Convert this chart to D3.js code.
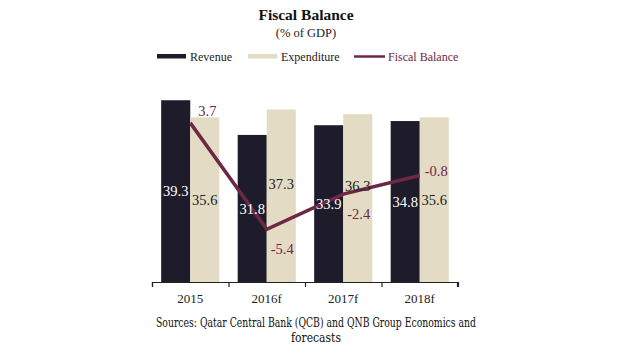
<!DOCTYPE html>
<html><head><meta charset="utf-8">
<script src="https://cdn.jsdelivr.net/npm/d3@7"></script>
<style>body{margin:0;background:#fff}svg{display:block}</style>
</head><body>
<script>
const categories = ["2015", "2016f", "2017f", "2018f"];
const revenue = [39.3, 31.8, 33.9, 34.8];
const expenditure = [35.6, 37.3, 36.3, 35.6];
const fiscalBalance = [3.7, -5.4, -2.4, -0.8];
const seriesNames = ["Revenue", "Expenditure", "Fiscal Balance"];
const colors = {rev: "#1e1c2a", exp: "#e4dbc4", line: "#6c2844"};

const W = 620, H = 355;
const svg = d3.select("body").append("svg").attr("width", W).attr("height", H);
const serif = "'Liberation Serif', 'Times New Roman', serif";

const x = d3.scaleBand().domain(categories).range([152, 458]).paddingInner(0.24).paddingOuter(0.12);
const xAxisScale = d3.scaleBand().domain(categories).range([152, 458]);
const y = d3.scaleLinear().domain([0, 40]).range([282, 97]);
const y2 = d3.scaleLinear().domain([-10, 6]).range([283, 96]);
const sub = d3.scaleBand().domain(["rev", "exp"]).range([0, x.bandwidth()]);

// title
svg.append("text").attr("x", 306).attr("y", 20).attr("text-anchor", "middle")
  .attr("font-family", serif).attr("font-weight", "bold").attr("font-size", 15.5)
  .attr("fill", "#111").text("Fiscal Balance");
svg.append("text").attr("x", 306).attr("y", 37).attr("text-anchor", "middle")
  .attr("font-family", serif).attr("font-size", 12.5).attr("fill", "#222").text("(% of GDP)");

// legend
const lg = svg.append("g").attr("font-family", serif).attr("font-size", 12);
const legendItems = [
  {name: seriesNames[0], x: 157, type: "rect", color: colors.rev, tc: "#222"},
  {name: seriesNames[1], x: 248, type: "rect", color: colors.exp, tc: "#222"},
  {name: seriesNames[2], x: 354, type: "line", color: colors.line, tc: colors.line}
];
legendItems.forEach(it => {
  if (it.type === "rect") {
    lg.append("rect").attr("x", it.x).attr("y", 54).attr("width", 29).attr("height", 4.5).attr("fill", it.color);
  } else {
    lg.append("line").attr("x1", it.x).attr("x2", it.x + 31).attr("y1", 56.5).attr("y2", 56.5)
      .attr("stroke", it.color).attr("stroke-width", 2.5);
  }
  lg.append("text").attr("x", it.x + (it.type === "rect" ? 33 : 34)).attr("y", 61)
    .attr("fill", it.tc).text(it.name);
});

// bars
const g = svg.append("g");
categories.forEach((c, i) => {
  const vals = [["rev", revenue[i]], ["exp", expenditure[i]]];
  vals.forEach(([k, v]) => {
    g.append("rect").attr("x", x(c) + sub(k)).attr("y", y(v))
      .attr("width", sub.bandwidth()).attr("height", y(0) - y(v)).attr("fill", colors[k]);
  });
});

// x axis
const ax = svg.append("g").attr("transform", "translate(0,282)")
  .call(d3.axisBottom(xAxisScale).tickSize(0).tickPadding(12));
ax.select(".domain").attr("stroke", "#222").attr("stroke-width", 1.2).attr("d", "M152.5,5V0.5H457.5V5");
ax.selectAll("text").attr("font-family", serif).attr("font-size", 13).attr("fill", "#222");
const bounds = xAxisScale.domain().map(d => xAxisScale(d)).concat([xAxisScale.range()[1]]);
ax.selectAll(".sep").data(bounds).enter().append("line").attr("class", "sep")
  .attr("x1", d => d + 0.5).attr("x2", d => d + 0.5).attr("y1", 0).attr("y2", 5)
  .attr("stroke", "#222").attr("stroke-width", 1.2);

// line
const cx = c => x(c) + x.bandwidth() / 2;
const line = d3.line().x((d, i) => cx(categories[i])).y(d => y2(d));
svg.append("path").datum(fiscalBalance).attr("d", line).attr("fill", "none")
  .attr("stroke", colors.line).attr("stroke-width", 3.5).attr("stroke-linejoin", "miter");

// bar labels
const lbl = svg.append("g").attr("font-family", serif).attr("font-size", 14.5).attr("text-anchor", "middle");
categories.forEach((c, i) => {
  lbl.append("text").attr("x", x(c) + sub("rev") + sub.bandwidth() / 2)
    .attr("y", (y(revenue[i]) + y(0)) / 2).attr("dy", "0.35em").attr("fill", "#fff").text(revenue[i].toFixed(1));
  const e = expenditure[i];
  const ey = (y(e) + y(0)) / 2;
  // labels of the middle years sit higher, clear of the line labels below them
  const lift = (i === 1 || i === 2) ? -12 : 0;
  lbl.append("text").attr("x", x(c) + sub("exp") + sub.bandwidth() / 2)
    .attr("y", ey + lift).attr("dy", "0.35em").attr("fill", "#222").text(e.toFixed(1));
});

// line labels
const ll = svg.append("g").attr("font-family", serif).attr("font-size", 14.5).attr("fill", colors.line);
fiscalBalance.forEach((v, i) => {
  let dx = 4, dy = 25;
  if (i === 0) { dx = 8; dy = -7; }
  if (i === 3) { dx = 4; dy = 1; }
  if (i === 3) dx = 5;
  ll.append("text").attr("x", cx(categories[i]) + dx).attr("y", y2(v) + dy)
    .attr("text-anchor", "start").text(v.toFixed(1));
});

// source
svg.append("text").attr("x", 316).attr("y", 327).attr("text-anchor", "middle")
  .attr("font-family", "'DejaVu Serif', serif").attr("font-size", 12.5).attr("fill", "#111")
  .attr("textLength", 320).attr("lengthAdjust", "spacingAndGlyphs")
  .text("Sources: Qatar Central Bank (QCB) and QNB Group Economics and");
svg.append("text").attr("x", 316).attr("y", 342).attr("text-anchor", "middle")
  .attr("font-family", "'DejaVu Serif', serif").attr("font-size", 12.5).attr("fill", "#111")
  .attr("textLength", 50).attr("lengthAdjust", "spacingAndGlyphs")
  .text("forecasts");
</script>
</body></html>
